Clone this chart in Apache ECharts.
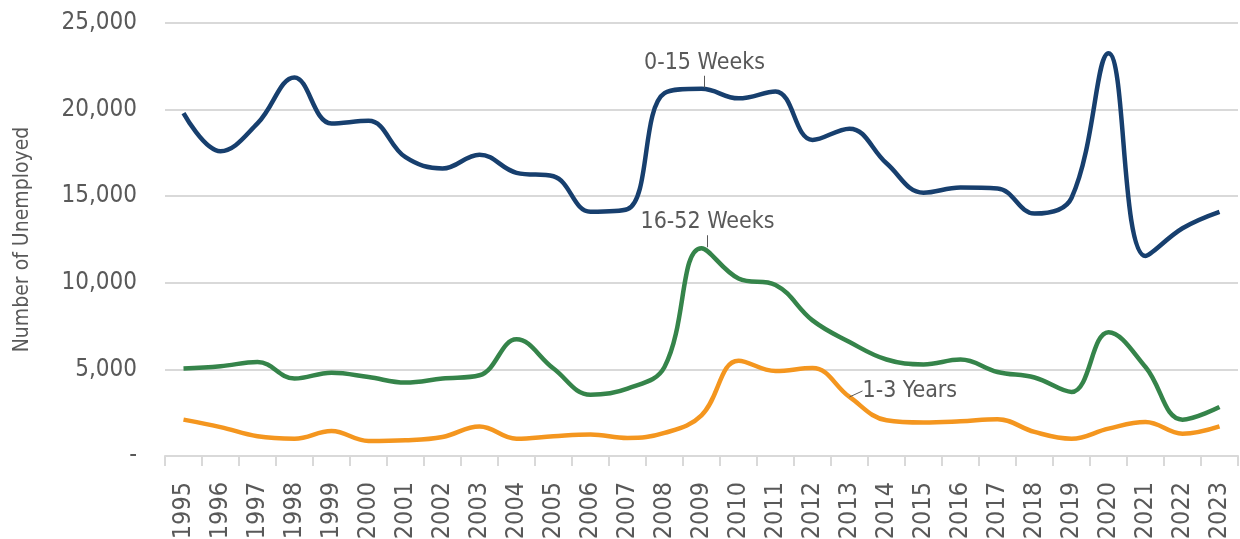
<!DOCTYPE html>
<html>
<head>
<meta charset="utf-8">
<script src="https://cdn.jsdelivr.net/npm/echarts@6/dist/echarts.min.js"></script>
<style>
  html, body { margin: 0; padding: 0; background: #fff; }
  #chart { width: 1240px; height: 539px; }
</style>
</head>
<body>
<div id="chart"></div>
<script>
var years = ['1995','1996','1997','1998','1999','2000','2001','2002','2003','2004','2005','2006','2007','2008','2009','2010','2011','2012','2013','2014','2015','2016','2017','2018','2019','2020','2021','2022','2023']
var weeks0to15 = [19800, 17600, 19200, 21850, 19200, 19350, 17250, 16600, 17400, 16350, 16150, 14100, 14250, 20950, 21200, 20650, 21050, 18250, 18900, 16900, 15200, 15500, 15450, 14000, 14900, 23250, 11550, 13150, 14100]
var weeks16to52 = [5050, 5180, 5430, 4470, 4810, 4560, 4240, 4470, 4660, 6740, 5050, 3540, 3890, 5140, 12000, 10250, 9880, 7830, 6580, 5570, 5290, 5570, 4850, 4530, 3700, 7150, 5140, 2100, 2830]
var years1to3 = [2100, 1670, 1140, 1000, 1440, 870, 910, 1100, 1710, 1000, 1140, 1240, 1040, 1330, 2350, 5500, 4910, 5080, 3410, 2060, 1930, 2000, 2120, 1390, 1000, 1580, 1960, 1290, 1710]

var fontFam = "'DejaVu Sans Condensed', 'Liberation Sans Narrow', sans-serif"
var textColor = '#595959'

// label sitting above the point, with a short leader bar underneath
var topLabel = {
    show: true,
    position: 'top',
    distance: 1,
    formatter: '{t|{a}}\n{bar|}',
    rich: {
        t: {color: textColor, fontSize: 23, fontFamily: fontFam, lineHeight: 26, align: 'center'},
        bar: {width: 1, height: 12, backgroundColor: textColor, align: 'center'}
    }
}

var rightLabel = {
    show: true,
    position: 'right',
    formatter: '{a}',
    color: textColor,
    fontSize: 23,
    fontFamily: fontFam
}

// put a label on one point only
function withLabel(values, idx, label) {
    return values.map(function (v, i) {
        if (i !== idx) return v
        return {value: v, label: label}
    })
}

function lineSeries(name, values, color, idx, label) {
    return {
        name: name,
        type: 'line',
        smooth: 0.4,
        symbol: 'circle',
        symbolSize: 0,
        showSymbol: true,
        showAllSymbol: true,
        data: withLabel(values, idx, label),
        lineStyle: {color: color, width: 4.5},
        itemStyle: {color: color},
        label: {show: false}
    }
}

var s0 = lineSeries('0-15 Weeks', weeks0to15, '#173f6e', 14, topLabel)
s0.labelLayout = {dx: 3}
var s1 = lineSeries('16-52 Weeks', weeks16to52, '#35844a', 14, topLabel)
s1.labelLayout = {dx: 6}
var s2 = lineSeries('1-3 Years', years1to3, '#f4961f', 18, rightLabel)
s2.labelLayout = {dx: 8, dy: -6}
s2.labelLine = {show: true, lineStyle: {color: textColor, width: 1}}

var chart = echarts.init(document.getElementById('chart'))
var option = {
    animation: false,
    grid: {left: 165, right: 2, top: 23, bottom: 83, outerBoundsMode: 'none'},
    xAxis: {
        type: 'category',
        data: years,
        boundaryGap: true,
        axisLine: {lineStyle: {color: '#d9d9d9', width: 2}},
        axisTick: {show: true, length: 10, lineStyle: {color: '#d9d9d9', width: 2}},
        axisLabel: {rotate: 90, margin: 26, color: textColor, fontSize: 25, fontFamily: fontFam}
    },
    yAxis: {
        type: 'value',
        min: 0,
        max: 25000,
        interval: 5000,
        name: 'Number of Unemployed',
        nameLocation: 'middle',
        nameGap: 132,
        nameTextStyle: {color: textColor, fontSize: 21, fontFamily: fontFam},
        axisLine: {show: false},
        axisTick: {show: false},
        splitLine: {lineStyle: {color: '#d9d9d9', width: 2}},
        axisLabel: {
            margin: 28,
            color: textColor,
            fontSize: 24,
            fontFamily: fontFam,
            formatter: function (v) { return v === 0 ? '-' : v.toLocaleString('en-US') }
        }
    },
    series: [s0, s1, s2]
}
chart.setOption(option)
</script>
</body>
</html>
